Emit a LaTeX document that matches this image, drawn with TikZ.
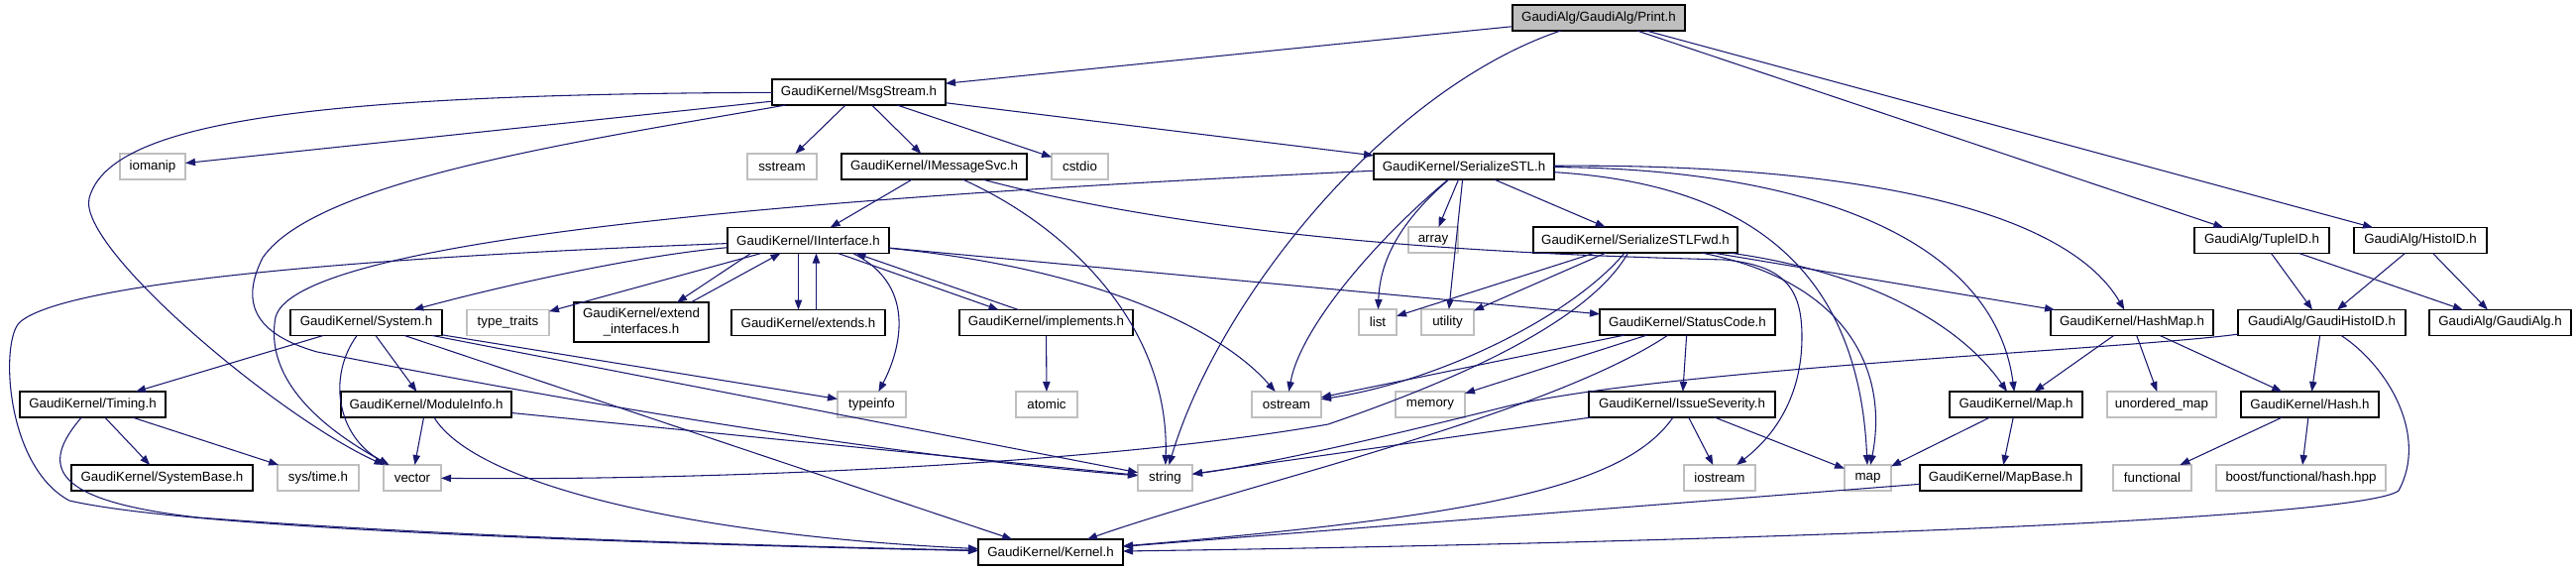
\documentclass[tikz,border=0pt]{standalone}
\usepackage{fontspec}
\setmainfont{Liberation Sans}
\usetikzlibrary{arrows.meta,calc}
\definecolor{edgec}{HTML}{191970}
\definecolor{greyb}{HTML}{BFBFBF}
\tikzset{
  hdr/.style={rectangle, draw=black, fill=white, line width=0.9pt, inner sep=0pt, outer sep=0pt,
    minimum height=19.5pt, font=\fontsize{10}{11.5}\selectfont, text=black},
  sysh/.style={hdr, draw=greyb},
  wd/.style={minimum width=#1*0.75pt},
  ht/.style={minimum height=#1*0.75pt},
  conn/.style={draw=edgec, line width=0.8pt, -{Triangle[length=7.5pt,width=5.5pt]}},
}
\begin{document}
\begin{tikzpicture}[x=0.75pt,y=-0.75pt]
\useasboundingbox (0,0) rectangle (2599,576);
\fill[white] (0,0) rectangle (2599,576);
% nodes
\node[hdr,wd=174,fill=greyb] (print) at (1613,18) {GaudiAlg/GaudiAlg/Print.h};
\node[hdr,wd=175] (msg) at (866.5,93) {GaudiKernel/MsgStream.h};
\node[sysh,wd=66] (iomanip) at (154,168) {iomanip};
\node[sysh,wd=70] (sstream) at (789,168) {sstream};
\node[hdr,wd=187] (imsg) at (942.5,168) {GaudiKernel/IMessageSvc.h};
\node[sysh,wd=57] (cstdio) at (1089.5,168) {cstdio};
\node[hdr,wd=182] (ser) at (1477,168) {GaudiKernel/SerializeSTL.h};
\node[hdr,wd=163] (iint) at (815.5,242.5) {GaudiKernel/IInterface.h};
\node[sysh,wd=50] (array) at (1446,242) {array};
\node[hdr,wd=206] (serfwd) at (1650,242) {GaudiKernel/SerializeSTLFwd.h};
\node[hdr,wd=136] (tuple) at (2282,242.5) {GaudiAlg/TupleID.h};
\node[hdr,wd=134] (histo) at (2442,242.5) {GaudiAlg/HistoID.h};
\node[hdr,wd=153] (system) at (369.5,325.5) {GaudiKernel/System.h};
\node[sysh,wd=83] (typetraits) at (512.5,325.5) {type\_traits};
\node[hdr,wd=136,ht=40,align=center] (extint) at (647,325) {GaudiKernel/extend\\\_interfaces.h};
\node[hdr,wd=155] (extends) at (815.5,325.5) {GaudiKernel/extends.h};
\node[hdr,wd=175] (impl) at (1055.5,325.5) {GaudiKernel/implements.h};
\node[sysh,wd=38] (list) at (1390,325) {list};
\node[sysh,wd=53] (utility) at (1460.5,325) {utility};
\node[hdr,wd=177] (status) at (1702.5,325) {GaudiKernel/StatusCode.h};
\node[hdr,wd=164] (hashmap) at (2151,325.5) {GaudiKernel/HashMap.h};
\node[hdr,wd=169] (ghisto) at (2342.5,325.5) {GaudiAlg/GaudiHistoID.h};
\node[hdr,wd=143] (galg) at (2522.5,325.5) {GaudiAlg/GaudiAlg.h};
\node[hdr,wd=147] (timing) at (93.5,408) {GaudiKernel/Timing.h};
\node[hdr,wd=172] (modinfo) at (430,408) {GaudiKernel/ModuleInfo.h};
\node[sysh,wd=69] (typeinfo) at (879.5,408) {typeinfo};
\node[sysh,wd=62] (atomic) at (1056,408) {atomic};
\node[sysh,wd=70] (ostream) at (1298,408) {ostream};
\node[sysh,wd=70] (memory) at (1443,408) {memory};
\node[hdr,wd=188] (issue) at (1697,408) {GaudiKernel/IssueSeverity.h};
\node[hdr,wd=134] (mapH) at (2034,408) {GaudiKernel/Map.h};
\node[sysh,wd=110] (umap) at (2181,408) {unordered\_map};
\node[hdr,wd=139] (hash) at (2330.5,408) {GaudiKernel/Hash.h};
\node[hdr,wd=183] (sysbase) at (163.5,482) {GaudiKernel/SystemBase.h};
\node[sysh,wd=82] (systime) at (321,482) {sys/time.h};
\node[sysh,wd=58] (vector) at (416,482) {vector};
\node[sysh,wd=55] (string) at (1175.5,482) {string};
\node[sysh,wd=72] (iostream) at (1735,482) {iostream};
\node[sysh,wd=47] (map) at (1884.5,482) {map};
\node[hdr,wd=163] (mapbase) at (2018.5,482) {GaudiKernel/MapBase.h};
\node[sysh,wd=79] (functional) at (2171.5,482) {functional};
\node[sysh,wd=171] (boost) at (2321.5,482) {boost/functional/hash.hpp};
\node[hdr,wd=146] (kernel) at (1060,557) {GaudiKernel/Kernel.h};
% Print.h
\draw[conn] (print) -- (msg);
\draw[conn] (print) .. controls (1400,90) and (1230,300) .. (string);
\draw[conn] (print) -- (tuple);
\draw[conn] (print) -- (histo);
% MsgStream.h
\draw[conn] (msg) -- (iomanip);
\draw[conn] (msg) .. controls (300,95) and (110,125) .. (90,200) .. controls (78,250) and (280,420) .. (vector);
\draw[conn] (msg) -- (sstream);
\draw[conn] (msg) -- (imsg);
\draw[conn] (msg) -- (cstdio);
\draw[conn] (msg) -- (ser);
\draw[conn] (msg) .. controls (600,140) and (320,180) .. (265,260) .. controls (245,300) and (250,335) .. (320,355) .. controls (600,410) and (900,460) .. (string);
% IMessageSvc.h
\draw[conn] (imsg) -- (iint);
\draw[conn] (imsg) .. controls (1080,230) and (1180,330) .. (string);
\draw[conn] (imsg) .. controls (1250,250) and (1600,258) .. (1740,262) .. controls (1800,268) and (1818,290) .. (1818,340) .. controls (1818,400) and (1790,440) .. (iostream);
% IInterface.h
\draw[conn] (iint) .. controls (640,258) and (500,290) .. (system);
\draw[conn] (iint) -- (typetraits);
\draw[conn] ($(iint.south)+(-58,0)$) -- ($(extint.north)+(36,0)$);
\draw[conn] ($(extint.north)+(50,0)$) -- ($(iint.south)+(-28,0)$);
\draw[conn] ($(iint.south)+(-10,0)$) -- ($(extends.north)+(-10,0)$);
\draw[conn] ($(extends.north)+(8,0)$) -- ($(iint.south)+(8,0)$);
\draw[conn] ($(iint.south)+(30,0)$) -- ($(impl.north)+(-48,0)$);
\draw[conn] ($(impl.north)+(-28,0)$) -- ($(iint.south)+(48,0)$);
\draw[conn] ($(iint.south)+(45,0)$) .. controls (930,290) and (905,360) .. (typeinfo);
\draw[conn] (iint) .. controls (1100,270) and (1230,330) .. (ostream);
\draw[conn] (iint) -- (status);
\draw[conn] (iint) .. controls (300,262) and (60,290) .. (20,325) .. controls (0,343) and (5,470) .. (70,505) .. controls (200,535) and (700,550) .. (kernel);
% System.h
\draw[conn] (system) -- (timing);
\draw[conn] (system) .. controls (330,380) and (340,440) .. (vector);
\draw[conn] (system) -- (modinfo);
\draw[conn] (system) -- (typeinfo);
\draw[conn] (system) -- (string);
\draw[conn] (system) -- (kernel);
% Timing.h
\draw[conn] (timing) -- (sysbase);
\draw[conn] (timing) -- (systime);
\draw[conn] (timing) .. controls (40,470) and (50,505) .. (200,522) .. controls (500,545) and (850,552) .. (kernel);
% ModuleInfo.h
\draw[conn] (modinfo) -- (vector);
\draw[conn] (modinfo) -- (string);
\draw[conn] (modinfo) .. controls (480,490) and (700,540) .. (kernel);
% implements.h
\draw[conn] (impl) -- (atomic);
% StatusCode.h
\draw[conn] (status) -- (ostream);
\draw[conn] (status) -- (memory);
\draw[conn] (status) -- (issue);
\draw[conn] (status) .. controls (1560,420) and (1250,490) .. (kernel);
% IssueSeverity.h
\draw[conn] (issue) -- (string);
\draw[conn] (issue) .. controls (1640,490) and (1500,520) .. (kernel);
\draw[conn] (issue) -- (iostream);
\draw[conn] (issue) -- (map);
% SerializeSTL.h
\draw[conn] (ser) -- (serfwd);
\draw[conn] (ser) -- (array);
\draw[conn] (ser) .. controls (1405,230) and (1392,270) .. (list);
\draw[conn] (ser) -- (utility);
\draw[conn] (ser) .. controls (1390,240) and (1312,330) .. (ostream);
\draw[conn] (ser) .. controls (900,195) and (300,235) .. (278,320) .. controls (265,390) and (340,440) .. (vector);
\draw[conn] (ser) .. controls (1750,185) and (1875,260) .. (map);
\draw[conn] (ser) .. controls (1800,170) and (2010,230) .. (mapH);
\draw[conn] (ser) .. controls (1850,165) and (2080,205) .. (hashmap);
% SerializeSTLFwd.h
\draw[conn] (serfwd) -- (list);
\draw[conn] (serfwd) -- (utility);
\draw[conn] (serfwd) .. controls (1585,320) and (1450,385) .. (ostream);
\draw[conn] (serfwd) .. controls (1600,330) and (1450,390) .. (1340,428) .. controls (1100,470) and (700,485) .. (vector);
\draw[conn] (serfwd) .. controls (1870,285) and (1905,380) .. (map);
\draw[conn] (serfwd) .. controls (1890,275) and (1980,330) .. (mapH);
\draw[conn] (serfwd) -- (hashmap);
% HashMap.h
\draw[conn] (hashmap) -- (mapH);
\draw[conn] (hashmap) -- (umap);
\draw[conn] (hashmap) -- (hash);
% GaudiHistoID.h
\draw[conn] (ghisto) -- (hash);
\draw[conn] (ghisto) .. controls (2150,352) and (1680,372) .. (1520,410) .. controls (1400,440) and (1280,468) .. (string);
\draw[conn] (ghisto) .. controls (2410,370) and (2450,440) .. (2420,495) .. controls (2380,525) and (1700,548) .. (kernel);
% TupleID.h, HistoID.h
\draw[conn] (tuple) -- (ghisto);
\draw[conn] (tuple) -- (galg);
\draw[conn] (histo) -- (ghisto);
\draw[conn] (histo) -- (galg);
% Map.h, MapBase.h, Hash.h
\draw[conn] (mapH) -- (map);
\draw[conn] (mapH) -- (mapbase);
\draw[conn] (mapbase) -- (kernel);
\draw[conn] (hash) -- (functional);
\draw[conn] (hash) -- (boost);
\end{tikzpicture}
\end{document}
